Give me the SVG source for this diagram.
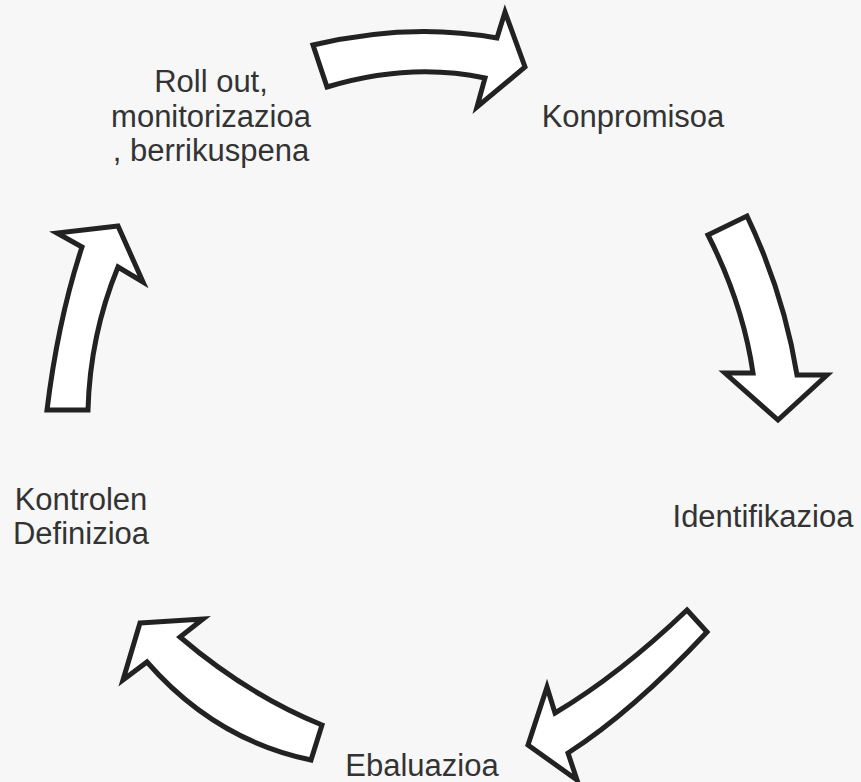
<svg xmlns="http://www.w3.org/2000/svg" width="861" height="782" viewBox="0 0 861 782">
<style>
.arrow{fill:#ffffff;stroke:#222222;stroke-width:5;stroke-linejoin:miter;stroke-miterlimit:6}
.lbl{font-family:"Liberation Sans",Arial,sans-serif;font-size:31px;fill:#333333;text-anchor:middle}
</style>
<rect width="861" height="782" fill="#f7f7f7"/>
<g id="connectors">
<path id="arrow-top" class="arrow" d="M313,45 Q410,22 497,38 L505,12 L525,67 L477,107 L485,78 Q410,62 327,87 Z"/>
<path id="arrow-right" class="arrow" d="M708,235 L747,216 Q784,294 797,375 L827,375 L778,420 L725,373 L753,373 Q743,304 708,235 Z"/>
<path id="arrow-bottom-right" class="arrow" d="M687,610 L707,632 Q632,712 568,753 L577,780 L528,745 L547,687 L555,713 Q619,675 687,610 Z"/>
<path id="arrow-bottom-left" class="arrow" d="M140,623 L203,619 L180,637 Q248,695 322,725 L311,760 Q215,740 147,662 L123,680 Z"/>
<path id="arrow-left" class="arrow" d="M118,226 L57,233 L82,247 Q58,320 47,410 L88,410 Q90,335 118,267 L143,282 Z"/>
</g>
<g id="node-konpromisoa"><text class="lbl" x="633" y="127">Konpromisoa</text></g>
<g id="node-identifikazioa"><text class="lbl" x="763" y="527">Identifikazioa</text></g>
<g id="node-ebaluazioa"><text class="lbl" x="422" y="776">Ebaluazioa</text></g>
<g id="node-kontrolen"><text class="lbl" x="81" y="510">Kontrolen</text><text class="lbl" x="81" y="544">Definizioa</text></g>
<g id="node-rollout"><text class="lbl" x="211" y="92">Roll out,</text><text class="lbl" x="211" y="127">monitorizazioa</text><text class="lbl" x="211" y="161">, berrikuspena</text></g>
</svg>
